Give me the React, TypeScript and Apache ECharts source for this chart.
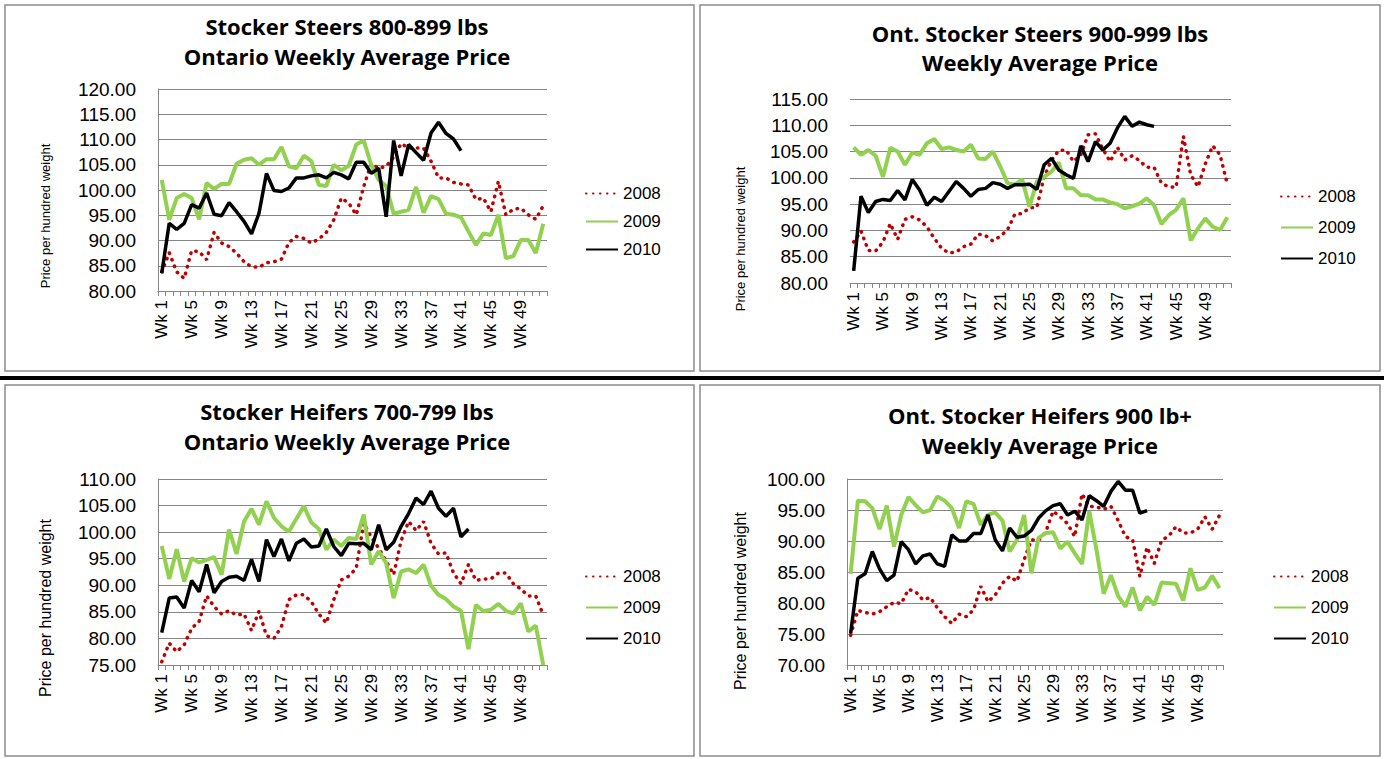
import React, { useEffect, useRef } from "react";
import * as echarts from "echarts";

const weeks: string[] = Array.from({ length: 52 }, (_, i) => `Wk ${i + 1}`);
const years = ["2008", "2009", "2010"];

// Panel 1: Stocker Steers 800-899 lbs
const p1_2008 = [83.8,87.6,83.8,82.5,88.0,87.8,86.2,91.6,89.5,88.8,87.5,85.8,84.8,84.7,85.6,85.8,86.3,89.6,90.8,90.4,89.5,90.3,91.6,94.1,98.4,97.4,95.1,100.7,105.2,104.3,104.7,106.5,109.2,108.3,108.3,108.3,105.7,102.4,102.4,101.5,101.2,101.0,98.1,98.4,95.7,101.7,95.1,96.2,96.4,95.1,94.2,96.9];
const p1_2009 = [102.0,94.1,98.4,99.2,98.4,94.2,101.4,100.2,101.2,101.2,105.2,106.0,106.3,105.0,106.1,106.1,108.5,104.7,104.3,106.8,105.7,101.0,100.8,105.0,103.9,104.8,109.0,109.8,105.0,102.0,100.8,95.3,95.7,96.1,100.6,95.5,98.8,98.2,95.3,95.1,94.6,91.8,89.1,91.4,91.1,95.1,86.5,86.9,90.1,90.1,87.5,93.3];
const p1_2010 = [83.5,93.4,92.2,93.4,97.1,96.4,99.4,95.2,94.9,97.5,95.7,93.8,91.3,95.4,103.3,99.9,99.7,100.4,102.4,102.4,102.8,103.0,102.4,103.5,103.0,102.2,105.5,105.5,103.3,104.3,94.7,109.8,102.8,109.0,107.4,105.9,111.3,113.4,111.2,110.1,107.8];

// Panel 2: Ont. Stocker Steers 900-999 lbs
const p2_2008 = [87.8,89.9,86.2,86.1,87.8,91.3,88.3,92.1,92.6,92.0,90.7,88.5,86.6,85.7,85.9,86.9,87.4,89.3,89.0,88.0,88.9,90.1,93.1,93.2,94.3,94.4,100.2,103.4,105.2,105.3,103.1,104.4,108.2,108.4,105.5,103.1,105.8,103.4,104.2,103.3,102.0,102.0,99.0,98.3,98.2,107.9,100.6,98.3,102.7,106.1,104.4,98.8];
const p2_2009 = [105.8,104.4,105.3,104.2,100.2,105.7,105.0,102.5,104.8,104.4,106.6,107.4,105.5,105.8,105.3,105.0,106.3,103.7,103.6,105.0,102.2,99.0,98.7,99.7,94.5,99.3,100.2,101.2,102.9,98.0,98.0,96.7,96.7,95.9,95.9,95.3,95.0,94.2,94.6,95.1,96.1,94.8,91.2,92.9,93.9,96.1,88.1,90.4,92.3,90.7,90.1,92.5];
const p2_2010 = [82.3,96.5,93.4,95.5,95.9,95.7,97.6,95.8,99.7,97.7,94.8,96.3,95.5,97.4,99.3,98.0,96.5,97.8,98.0,99.1,98.8,98.0,98.7,98.7,98.8,97.8,102.5,103.7,101.5,100.6,99.9,106.1,103.1,106.9,105.3,106.6,109.5,111.7,109.8,110.6,110.1,109.8];

// Panel 3: Stocker Heifers 700-799 lbs
const p3_2008 = [75.6,79.1,77.5,78.8,81.9,83.2,88.0,86.0,84.6,85.2,84.4,84.6,81.5,85.1,80.5,80.0,82.2,87.3,88.2,88.2,86.9,84.6,82.9,87.3,91.0,91.7,93.2,101.7,99.1,97.0,94.5,92.0,98.4,102.0,100.3,102.0,97.9,95.9,96.1,92.3,90.3,93.9,90.9,91.2,91.2,92.3,92.3,90.3,89.3,88.0,88.0,84.4];
const p3_2009 = [97.4,91.2,96.8,90.7,95.1,94.3,94.8,95.3,92.0,100.5,95.9,102.0,104.4,101.4,105.8,102.7,101.1,100.1,102.5,104.9,101.8,100.6,96.7,98.6,97.4,98.9,98.7,103.3,93.9,96.4,94.2,87.6,92.6,93.0,92.3,93.9,89.9,88.2,87.4,86.0,85.2,78.0,86.3,85.1,85.4,86.5,85.2,84.7,86.6,81.3,82.4,75.0];
const p3_2010 = [81.1,87.6,87.8,85.7,90.9,88.8,93.9,88.6,90.7,91.5,91.7,90.9,94.9,90.7,98.6,95.4,98.7,94.6,97.9,98.7,97.2,97.4,100.6,97.3,95.6,97.9,97.8,97.9,96.7,101.4,96.7,98.1,101.1,103.5,106.4,105.2,107.7,104.5,103.0,104.5,99.1,100.6];

// Panel 4: Ont. Stocker Heifers 900 lb+
const p4_2008 = [74.8,78.8,78.5,78.2,78.6,79.4,80.1,79.9,82.2,81.8,80.5,80.9,79.2,77.8,76.7,78.2,77.8,78.9,82.7,80.2,81.3,83.2,84.3,83.5,87.0,90.2,90.1,91.5,94.8,93.9,92.8,90.7,97.6,95.6,95.5,95.1,95.6,93.3,90.7,90.2,84.3,89.0,86.4,90.1,90.8,92.3,91.3,91.3,91.9,93.9,91.9,94.1];
const p4_2009 = [84.7,96.5,96.4,95.3,91.9,95.7,89.1,94.2,97.1,95.8,94.6,95.0,97.2,96.5,95.3,92.1,96.4,96.0,92.6,94.2,94.6,93.3,88.3,90.2,94.2,84.8,90.5,91.3,91.4,88.8,89.9,88.0,86.3,94.8,88.6,81.5,84.5,81.1,79.4,82.5,78.8,81.0,79.7,83.3,83.2,83.1,80.4,85.6,82.1,82.5,84.4,82.4];
const p4_2010 = [75.1,84.0,84.7,88.3,85.5,83.6,84.5,89.9,88.6,86.3,87.6,87.9,86.3,85.9,91.0,90.0,90.0,91.2,91.2,94.2,90.2,88.4,92.1,90.6,90.8,91.7,93.7,94.9,95.7,96.0,94.2,94.8,93.4,97.3,96.5,95.6,98.0,99.6,98.2,98.2,94.5,94.9];

const titles = [
  ["Stocker Steers 800-899 lbs", "Ontario Weekly Average Price"],
  ["Ont. Stocker Steers 900-999 lbs", "Weekly Average Price"],
  ["Stocker Heifers 700-799 lbs", "Ontario Weekly Average Price"],
  ["Ont. Stocker Heifers 900 lb+", "Weekly Average Price"],
];
const yRanges = [
  [80, 120],
  [80, 115],
  [75, 110],
  [70, 100],
];
const yAxisName = "Price per hundred weight";

const layout = [
  { grid: { left: 158, top: 89, width: 389, height: 202 }, titleX: 347, titleY: [26, 56], legend: { x: 617, y: 190, gap: 31 }, yName: { x: 45, y: 216, size: 13 }, axisLine: true },
  { grid: { left: 850, top: 99, width: 381, height: 184 }, titleX: 1040, titleY: [33, 62], legend: { x: 1312, y: 193, gap: 34 }, yName: { x: 740, y: 239, size: 13 }, axisLine: false },
  { grid: { left: 158, top: 479, width: 389, height: 186 }, titleX: 347, titleY: [411, 441], legend: { x: 617, y: 573, gap: 34 }, yName: { x: 45, y: 608, size: 16 }, axisLine: true },
  { grid: { left: 847, top: 479, width: 376, height: 186 }, titleX: 1040, titleY: [415, 445], legend: { x: 1305, y: 573, gap: 34 }, yName: { x: 740, y: 601, size: 16 }, axisLine: true },
];

const panelData = [
  [p1_2008, p1_2009, p1_2010],
  [p2_2008, p2_2009, p2_2010],
  [p3_2008, p3_2009, p3_2010],
  [p4_2008, p4_2009, p4_2010],
];

const lineStyles = [
  { color: "#C00000", width: 3.5, type: [0.5, 6.5], cap: "round" },
  { color: "#92D050", width: 4 },
  { color: "#000000", width: 3.5 },
];

const FONT = "'Liberation Sans', Arial, sans-serif";
const TITLE_FONT = "'Open Sans', 'Liberation Sans', sans-serif";

export default function App() {
  const ref = useRef<HTMLDivElement>(null);
  useEffect(() => {
    document.body.style.margin = "0";
    if (!ref.current) return;
    const chart = echarts.init(ref.current, undefined, { renderer: "svg" });

    const grids = layout.map((l) => ({ ...l.grid, containLabel: false }));
    const xAxes = layout.map((l, i) => ({
      type: "category",
      gridIndex: i,
      data: weeks,
      boundaryGap: true,
      axisLine: { show: true, lineStyle: { color: "#868686", width: 1 } },
      axisTick: { show: true, interval: 0, length: 5, lineStyle: { color: "#868686" } },
      axisLabel: { interval: 3, rotate: 90, fontSize: 17, fontFamily: FONT, color: "#000", margin: 9 },
      splitLine: { show: false },
    }));
    const yAxes = layout.map((l, i) => ({
      type: "value",
      gridIndex: i,
      min: yRanges[i][0],
      max: yRanges[i][1],
      interval: 5,
      axisLine: { show: l.axisLine, lineStyle: { color: "#868686", width: 1 } },
      axisTick: { show: false },
      axisLabel: { fontSize: 19, fontFamily: FONT, color: "#000", margin: 22, formatter: (v: number) => v.toFixed(2) },
      splitLine: { show: true, lineStyle: { color: "#868686", width: 1 } },
    }));
    const series: any[] = [];
    panelData.forEach((arrs, p) => {
      arrs.forEach((d, k) => {
        series.push({
          type: "line",
          name: years[k],
          xAxisIndex: p,
          yAxisIndex: p,
          data: d,
          symbol: "none",
          lineStyle: lineStyles[k],
          itemStyle: { color: lineStyles[k].color },
          z: 2 + k,
        });
      });
    });
    const legends = layout.map((l) => ({
      data: years,
      orient: "vertical",
      left: l.legend.x - 37,
      top: l.legend.y - 10,
      itemWidth: 32,
      itemHeight: 20,
      itemGap: l.legend.gap - 20,
      selectedMode: false,
      itemStyle: { opacity: 0 },
      textStyle: { fontSize: 17, fontFamily: FONT, color: "#000" },
    }));

    const graphics: any[] = [];
    const boxes = [
      { x: 5, y: 5, w: 689, h: 366 },
      { x: 700, y: 5, w: 680, h: 366 },
      { x: 5, y: 385, w: 689, h: 371 },
      { x: 700, y: 385, w: 680, h: 371 },
    ];
    boxes.forEach((b) =>
      graphics.push({ type: "rect", shape: { x: b.x, y: b.y, width: b.w, height: b.h }, style: { fill: "none", stroke: "#8c8c8c", lineWidth: 1.5 }, silent: true, z: -1 })
    );
    graphics.push({ type: "rect", shape: { x: 0, y: 376, width: 1384, height: 4 }, style: { fill: "#000" }, silent: true });
    layout.forEach((l, i) => {
      titles[i].forEach((t, j) =>
        graphics.push({
          type: "text",
          x: l.titleX,
          y: l.titleY[j],
          style: { text: t, fontSize: 22, fontWeight: "bold", fontFamily: TITLE_FONT, fill: "#000", align: "center", verticalAlign: "middle" },
          silent: true,
        })
      );
      graphics.push({
        type: "text",
        x: l.yName.x,
        y: l.yName.y,
        rotation: Math.PI / 2,
        style: { text: yAxisName, fontSize: l.yName.size, fontFamily: FONT, fill: "#000", align: "center", verticalAlign: "middle" },
        silent: true,
      });
    });

    chart.setOption({
      animation: false,
      backgroundColor: "#fff",
      grid: grids,
      xAxis: xAxes,
      yAxis: yAxes,
      legend: legends,
      series,
      graphic: graphics,
    });
    return () => chart.dispose();
  }, []);
  return <div ref={ref} style={{ width: 1384, height: 759 }} />;
}
